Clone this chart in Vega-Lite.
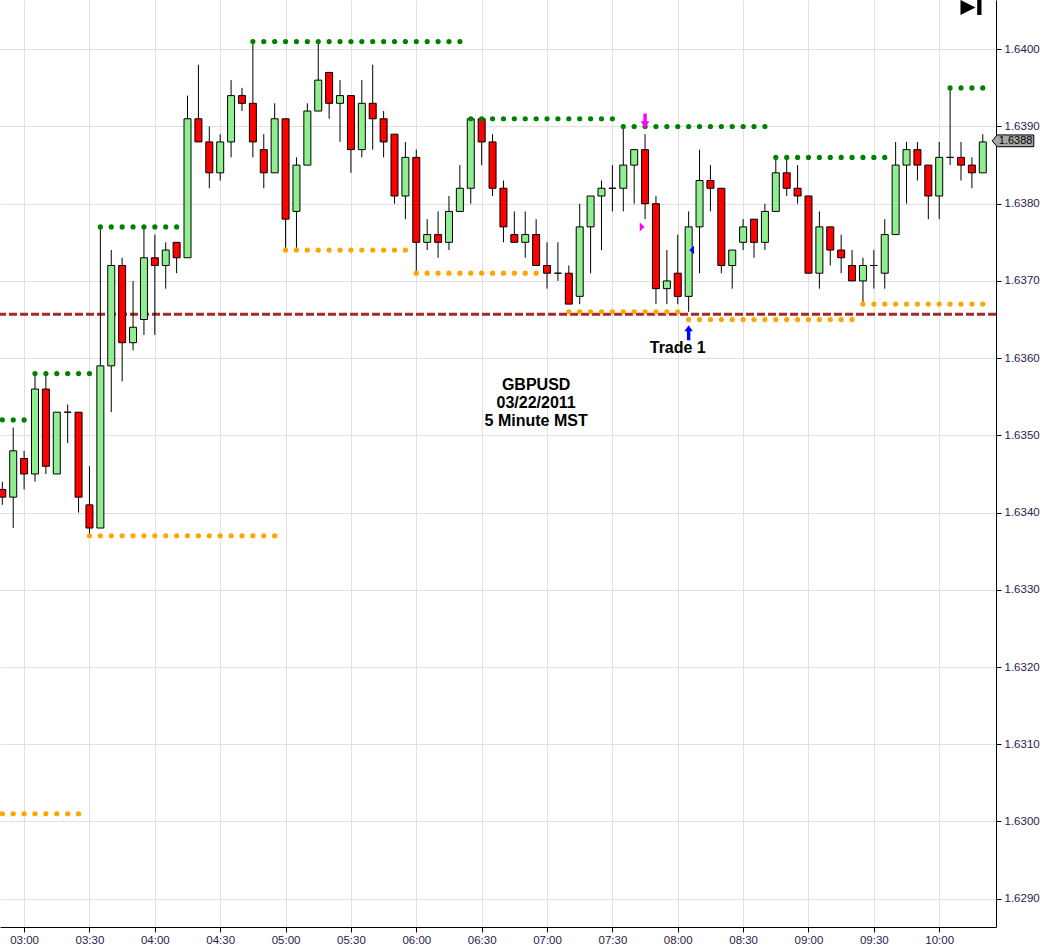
{
  "$schema": "https://vega.github.io/schema/vega-lite/v6.json",
  "description": "GBPUSD 5 minute candlesticks, 03/22/2011, with swing high/low dots and trade signals",
  "width": 996,
  "height": 927,
  "autosize": {"type": "none"},
  "padding": {"left": 0, "top": 0, "right": 48, "bottom": 25},
  "background": "white",
  "config": {
    "view": {"stroke": null},
    "font": "Liberation Sans"
  },
  "resolve": {"axis": {"x": "independent", "y": "independent"}},
  "datasets": {
    "candles": [
      {"t":"2011-03-22T02:50Z","o":1.6343,"h":1.6344,"l":1.6341,"c":1.6342},
      {"t":"2011-03-22T02:55Z","o":1.6342,"h":1.6351,"l":1.6338,"c":1.6348},
      {"t":"2011-03-22T03:00Z","o":1.6347,"h":1.6348,"l":1.6343,"c":1.6345},
      {"t":"2011-03-22T03:05Z","o":1.6345,"h":1.6358,"l":1.6344,"c":1.6356},
      {"t":"2011-03-22T03:10Z","o":1.6356,"h":1.6358,"l":1.6345,"c":1.6346},
      {"t":"2011-03-22T03:15Z","o":1.6345,"h":1.6353,"l":1.6345,"c":1.6353},
      {"t":"2011-03-22T03:20Z","o":1.6353,"h":1.6354,"l":1.6349,"c":1.6353},
      {"t":"2011-03-22T03:25Z","o":1.6353,"h":1.6353,"l":1.6340,"c":1.6342},
      {"t":"2011-03-22T03:30Z","o":1.6341,"h":1.6346,"l":1.6337,"c":1.6338},
      {"t":"2011-03-22T03:35Z","o":1.6338,"h":1.6377,"l":1.6338,"c":1.6359},
      {"t":"2011-03-22T03:40Z","o":1.6359,"h":1.6374,"l":1.6353,"c":1.6372},
      {"t":"2011-03-22T03:45Z","o":1.6372,"h":1.6373,"l":1.6357,"c":1.6362},
      {"t":"2011-03-22T03:50Z","o":1.6362,"h":1.6370,"l":1.6361,"c":1.6364},
      {"t":"2011-03-22T03:55Z","o":1.6365,"h":1.6377,"l":1.6363,"c":1.6373},
      {"t":"2011-03-22T04:00Z","o":1.6373,"h":1.6376,"l":1.6363,"c":1.6372},
      {"t":"2011-03-22T04:05Z","o":1.6372,"h":1.6375,"l":1.6369,"c":1.6374},
      {"t":"2011-03-22T04:10Z","o":1.6375,"h":1.6375,"l":1.6371,"c":1.6373},
      {"t":"2011-03-22T04:15Z","o":1.6373,"h":1.6394,"l":1.6373,"c":1.6391},
      {"t":"2011-03-22T04:20Z","o":1.6391,"h":1.6398,"l":1.6388,"c":1.6388},
      {"t":"2011-03-22T04:25Z","o":1.6388,"h":1.6390,"l":1.6382,"c":1.6384},
      {"t":"2011-03-22T04:30Z","o":1.6384,"h":1.6389,"l":1.6383,"c":1.6388},
      {"t":"2011-03-22T04:35Z","o":1.6388,"h":1.6396,"l":1.6386,"c":1.6394},
      {"t":"2011-03-22T04:40Z","o":1.6394,"h":1.6395,"l":1.6392,"c":1.6393},
      {"t":"2011-03-22T04:45Z","o":1.6393,"h":1.6401,"l":1.6386,"c":1.6388},
      {"t":"2011-03-22T04:50Z","o":1.6387,"h":1.6389,"l":1.6382,"c":1.6384},
      {"t":"2011-03-22T04:55Z","o":1.6384,"h":1.6393,"l":1.6384,"c":1.6391},
      {"t":"2011-03-22T05:00Z","o":1.6391,"h":1.6391,"l":1.6374,"c":1.6378},
      {"t":"2011-03-22T05:05Z","o":1.6379,"h":1.6386,"l":1.6374,"c":1.6385},
      {"t":"2011-03-22T05:10Z","o":1.6385,"h":1.6393,"l":1.6385,"c":1.6392},
      {"t":"2011-03-22T05:15Z","o":1.6392,"h":1.6401,"l":1.6392,"c":1.6396},
      {"t":"2011-03-22T05:20Z","o":1.6397,"h":1.6397,"l":1.6391,"c":1.6393},
      {"t":"2011-03-22T05:25Z","o":1.6393,"h":1.6396,"l":1.6388,"c":1.6394},
      {"t":"2011-03-22T05:30Z","o":1.6394,"h":1.6394,"l":1.6384,"c":1.6387},
      {"t":"2011-03-22T05:35Z","o":1.6387,"h":1.6396,"l":1.6386,"c":1.6393},
      {"t":"2011-03-22T05:40Z","o":1.6393,"h":1.6398,"l":1.6387,"c":1.6391},
      {"t":"2011-03-22T05:45Z","o":1.6391,"h":1.6392,"l":1.6386,"c":1.6388},
      {"t":"2011-03-22T05:50Z","o":1.6389,"h":1.6389,"l":1.6380,"c":1.6381},
      {"t":"2011-03-22T05:55Z","o":1.6381,"h":1.6388,"l":1.6378,"c":1.6386},
      {"t":"2011-03-22T06:00Z","o":1.6386,"h":1.6387,"l":1.6371,"c":1.6375},
      {"t":"2011-03-22T06:05Z","o":1.6375,"h":1.6378,"l":1.6374,"c":1.6376},
      {"t":"2011-03-22T06:10Z","o":1.6376,"h":1.6379,"l":1.6373,"c":1.6375},
      {"t":"2011-03-22T06:15Z","o":1.6375,"h":1.6381,"l":1.6374,"c":1.6379},
      {"t":"2011-03-22T06:20Z","o":1.6379,"h":1.6385,"l":1.6379,"c":1.6382},
      {"t":"2011-03-22T06:25Z","o":1.6382,"h":1.6391,"l":1.6380,"c":1.6391},
      {"t":"2011-03-22T06:30Z","o":1.6391,"h":1.6391,"l":1.6385,"c":1.6388},
      {"t":"2011-03-22T06:35Z","o":1.6388,"h":1.6389,"l":1.6381,"c":1.6382},
      {"t":"2011-03-22T06:40Z","o":1.6382,"h":1.6383,"l":1.6375,"c":1.6377},
      {"t":"2011-03-22T06:45Z","o":1.6376,"h":1.6379,"l":1.6375,"c":1.6375},
      {"t":"2011-03-22T06:50Z","o":1.6375,"h":1.6379,"l":1.6373,"c":1.6376},
      {"t":"2011-03-22T06:55Z","o":1.6376,"h":1.6378,"l":1.6372,"c":1.6372},
      {"t":"2011-03-22T07:00Z","o":1.6372,"h":1.6375,"l":1.6369,"c":1.6371},
      {"t":"2011-03-22T07:05Z","o":1.6371,"h":1.6375,"l":1.6370,"c":1.6371},
      {"t":"2011-03-22T07:10Z","o":1.6371,"h":1.6372,"l":1.6367,"c":1.6367},
      {"t":"2011-03-22T07:15Z","o":1.6368,"h":1.6380,"l":1.6367,"c":1.6377},
      {"t":"2011-03-22T07:20Z","o":1.6377,"h":1.6381,"l":1.6371,"c":1.6381},
      {"t":"2011-03-22T07:25Z","o":1.6381,"h":1.6383,"l":1.6374,"c":1.6382},
      {"t":"2011-03-22T07:30Z","o":1.6382,"h":1.6385,"l":1.6379,"c":1.6382},
      {"t":"2011-03-22T07:35Z","o":1.6382,"h":1.6390,"l":1.6379,"c":1.6385},
      {"t":"2011-03-22T07:40Z","o":1.6385,"h":1.6387,"l":1.6380,"c":1.6387},
      {"t":"2011-03-22T07:45Z","o":1.6387,"h":1.6389,"l":1.6378,"c":1.6380},
      {"t":"2011-03-22T07:50Z","o":1.6380,"h":1.6381,"l":1.6367,"c":1.6369},
      {"t":"2011-03-22T07:55Z","o":1.6369,"h":1.6374,"l":1.6367,"c":1.6370},
      {"t":"2011-03-22T08:00Z","o":1.6371,"h":1.6376,"l":1.6367,"c":1.6368},
      {"t":"2011-03-22T08:05Z","o":1.6368,"h":1.6379,"l":1.6366,"c":1.6377},
      {"t":"2011-03-22T08:10Z","o":1.6377,"h":1.6387,"l":1.6371,"c":1.6383},
      {"t":"2011-03-22T08:15Z","o":1.6383,"h":1.6385,"l":1.6379,"c":1.6382},
      {"t":"2011-03-22T08:20Z","o":1.6382,"h":1.6382,"l":1.6371,"c":1.6372},
      {"t":"2011-03-22T08:25Z","o":1.6372,"h":1.6374,"l":1.6369,"c":1.6374},
      {"t":"2011-03-22T08:30Z","o":1.6375,"h":1.6378,"l":1.6374,"c":1.6377},
      {"t":"2011-03-22T08:35Z","o":1.6378,"h":1.6378,"l":1.6373,"c":1.6375},
      {"t":"2011-03-22T08:40Z","o":1.6375,"h":1.6380,"l":1.6374,"c":1.6379},
      {"t":"2011-03-22T08:45Z","o":1.6379,"h":1.6386,"l":1.6379,"c":1.6384},
      {"t":"2011-03-22T08:50Z","o":1.6384,"h":1.6386,"l":1.6381,"c":1.6382},
      {"t":"2011-03-22T08:55Z","o":1.6382,"h":1.6385,"l":1.6380,"c":1.6381},
      {"t":"2011-03-22T09:00Z","o":1.6381,"h":1.6381,"l":1.6371,"c":1.6371},
      {"t":"2011-03-22T09:05Z","o":1.6371,"h":1.6379,"l":1.6369,"c":1.6377},
      {"t":"2011-03-22T09:10Z","o":1.6377,"h":1.6377,"l":1.6372,"c":1.6374},
      {"t":"2011-03-22T09:15Z","o":1.6374,"h":1.6376,"l":1.6371,"c":1.6373},
      {"t":"2011-03-22T09:20Z","o":1.6372,"h":1.6374,"l":1.6370,"c":1.6370},
      {"t":"2011-03-22T09:25Z","o":1.6370,"h":1.6373,"l":1.6367,"c":1.6372},
      {"t":"2011-03-22T09:30Z","o":1.6372,"h":1.6374,"l":1.6369,"c":1.6372},
      {"t":"2011-03-22T09:35Z","o":1.6371,"h":1.6378,"l":1.6369,"c":1.6376},
      {"t":"2011-03-22T09:40Z","o":1.6376,"h":1.6388,"l":1.6376,"c":1.6385},
      {"t":"2011-03-22T09:45Z","o":1.6385,"h":1.6388,"l":1.6380,"c":1.6387},
      {"t":"2011-03-22T09:50Z","o":1.6387,"h":1.6388,"l":1.6383,"c":1.6385},
      {"t":"2011-03-22T09:55Z","o":1.6385,"h":1.6385,"l":1.6378,"c":1.6381},
      {"t":"2011-03-22T10:00Z","o":1.6381,"h":1.6388,"l":1.6378,"c":1.6386},
      {"t":"2011-03-22T10:05Z","o":1.6386,"h":1.6395,"l":1.6385,"c":1.6386},
      {"t":"2011-03-22T10:10Z","o":1.6386,"h":1.6388,"l":1.6383,"c":1.6385},
      {"t":"2011-03-22T10:15Z","o":1.6385,"h":1.6386,"l":1.6382,"c":1.6384},
      {"t":"2011-03-22T10:20Z","o":1.6384,"h":1.6389,"l":1.6384,"c":1.6388}
    ],
    "highs": [
      {"t":"2011-03-22T02:50Z","p":1.6352},{"t":"2011-03-22T02:55Z","p":1.6352},{"t":"2011-03-22T03:00Z","p":1.6352},
      {"t":"2011-03-22T03:05Z","p":1.6358},{"t":"2011-03-22T03:10Z","p":1.6358},{"t":"2011-03-22T03:15Z","p":1.6358},{"t":"2011-03-22T03:20Z","p":1.6358},{"t":"2011-03-22T03:25Z","p":1.6358},{"t":"2011-03-22T03:30Z","p":1.6358},
      {"t":"2011-03-22T03:35Z","p":1.6377},{"t":"2011-03-22T03:40Z","p":1.6377},{"t":"2011-03-22T03:45Z","p":1.6377},{"t":"2011-03-22T03:50Z","p":1.6377},{"t":"2011-03-22T03:55Z","p":1.6377},{"t":"2011-03-22T04:00Z","p":1.6377},{"t":"2011-03-22T04:05Z","p":1.6377},{"t":"2011-03-22T04:10Z","p":1.6377},
      {"t":"2011-03-22T04:45Z","p":1.6401},{"t":"2011-03-22T04:50Z","p":1.6401},{"t":"2011-03-22T04:55Z","p":1.6401},{"t":"2011-03-22T05:00Z","p":1.6401},{"t":"2011-03-22T05:05Z","p":1.6401},{"t":"2011-03-22T05:10Z","p":1.6401},{"t":"2011-03-22T05:15Z","p":1.6401},{"t":"2011-03-22T05:20Z","p":1.6401},{"t":"2011-03-22T05:25Z","p":1.6401},{"t":"2011-03-22T05:30Z","p":1.6401},
      {"t":"2011-03-22T05:35Z","p":1.6401},{"t":"2011-03-22T05:40Z","p":1.6401},{"t":"2011-03-22T05:45Z","p":1.6401},{"t":"2011-03-22T05:50Z","p":1.6401},{"t":"2011-03-22T05:55Z","p":1.6401},{"t":"2011-03-22T06:00Z","p":1.6401},{"t":"2011-03-22T06:05Z","p":1.6401},{"t":"2011-03-22T06:10Z","p":1.6401},{"t":"2011-03-22T06:15Z","p":1.6401},{"t":"2011-03-22T06:20Z","p":1.6401},
      {"t":"2011-03-22T06:25Z","p":1.6391},{"t":"2011-03-22T06:30Z","p":1.6391},{"t":"2011-03-22T06:35Z","p":1.6391},{"t":"2011-03-22T06:40Z","p":1.6391},{"t":"2011-03-22T06:45Z","p":1.6391},{"t":"2011-03-22T06:50Z","p":1.6391},{"t":"2011-03-22T06:55Z","p":1.6391},
      {"t":"2011-03-22T07:00Z","p":1.6391},{"t":"2011-03-22T07:05Z","p":1.6391},{"t":"2011-03-22T07:10Z","p":1.6391},{"t":"2011-03-22T07:15Z","p":1.6391},{"t":"2011-03-22T07:20Z","p":1.6391},{"t":"2011-03-22T07:25Z","p":1.6391},{"t":"2011-03-22T07:30Z","p":1.6391},
      {"t":"2011-03-22T07:35Z","p":1.6390},{"t":"2011-03-22T07:40Z","p":1.6390},{"t":"2011-03-22T07:45Z","p":1.6390},{"t":"2011-03-22T07:50Z","p":1.6390},{"t":"2011-03-22T07:55Z","p":1.6390},{"t":"2011-03-22T08:00Z","p":1.6390},{"t":"2011-03-22T08:05Z","p":1.6390},
      {"t":"2011-03-22T08:10Z","p":1.6390},{"t":"2011-03-22T08:15Z","p":1.6390},{"t":"2011-03-22T08:20Z","p":1.6390},{"t":"2011-03-22T08:25Z","p":1.6390},{"t":"2011-03-22T08:30Z","p":1.6390},{"t":"2011-03-22T08:35Z","p":1.6390},{"t":"2011-03-22T08:40Z","p":1.6390},
      {"t":"2011-03-22T08:45Z","p":1.6386},{"t":"2011-03-22T08:50Z","p":1.6386},{"t":"2011-03-22T08:55Z","p":1.6386},{"t":"2011-03-22T09:00Z","p":1.6386},{"t":"2011-03-22T09:05Z","p":1.6386},{"t":"2011-03-22T09:10Z","p":1.6386},{"t":"2011-03-22T09:15Z","p":1.6386},{"t":"2011-03-22T09:20Z","p":1.6386},{"t":"2011-03-22T09:25Z","p":1.6386},{"t":"2011-03-22T09:30Z","p":1.6386},{"t":"2011-03-22T09:35Z","p":1.6386},
      {"t":"2011-03-22T10:05Z","p":1.6395},{"t":"2011-03-22T10:10Z","p":1.6395},{"t":"2011-03-22T10:15Z","p":1.6395},{"t":"2011-03-22T10:20Z","p":1.6395}
    ],
    "lows": [
      {"t":"2011-03-22T02:50Z","p":1.6301},{"t":"2011-03-22T02:55Z","p":1.6301},{"t":"2011-03-22T03:00Z","p":1.6301},{"t":"2011-03-22T03:05Z","p":1.6301},{"t":"2011-03-22T03:10Z","p":1.6301},{"t":"2011-03-22T03:15Z","p":1.6301},{"t":"2011-03-22T03:20Z","p":1.6301},{"t":"2011-03-22T03:25Z","p":1.6301},
      {"t":"2011-03-22T03:30Z","p":1.6337},{"t":"2011-03-22T03:35Z","p":1.6337},{"t":"2011-03-22T03:40Z","p":1.6337},{"t":"2011-03-22T03:45Z","p":1.6337},{"t":"2011-03-22T03:50Z","p":1.6337},{"t":"2011-03-22T03:55Z","p":1.6337},{"t":"2011-03-22T04:00Z","p":1.6337},{"t":"2011-03-22T04:05Z","p":1.6337},{"t":"2011-03-22T04:10Z","p":1.6337},
      {"t":"2011-03-22T04:15Z","p":1.6337},{"t":"2011-03-22T04:20Z","p":1.6337},{"t":"2011-03-22T04:25Z","p":1.6337},{"t":"2011-03-22T04:30Z","p":1.6337},{"t":"2011-03-22T04:35Z","p":1.6337},{"t":"2011-03-22T04:40Z","p":1.6337},{"t":"2011-03-22T04:45Z","p":1.6337},{"t":"2011-03-22T04:50Z","p":1.6337},{"t":"2011-03-22T04:55Z","p":1.6337},
      {"t":"2011-03-22T05:00Z","p":1.6374},{"t":"2011-03-22T05:05Z","p":1.6374},{"t":"2011-03-22T05:10Z","p":1.6374},{"t":"2011-03-22T05:15Z","p":1.6374},{"t":"2011-03-22T05:20Z","p":1.6374},{"t":"2011-03-22T05:25Z","p":1.6374},{"t":"2011-03-22T05:30Z","p":1.6374},{"t":"2011-03-22T05:35Z","p":1.6374},{"t":"2011-03-22T05:40Z","p":1.6374},{"t":"2011-03-22T05:45Z","p":1.6374},{"t":"2011-03-22T05:50Z","p":1.6374},{"t":"2011-03-22T05:55Z","p":1.6374},
      {"t":"2011-03-22T06:00Z","p":1.6371},{"t":"2011-03-22T06:05Z","p":1.6371},{"t":"2011-03-22T06:10Z","p":1.6371},{"t":"2011-03-22T06:15Z","p":1.6371},{"t":"2011-03-22T06:20Z","p":1.6371},{"t":"2011-03-22T06:25Z","p":1.6371},{"t":"2011-03-22T06:30Z","p":1.6371},{"t":"2011-03-22T06:35Z","p":1.6371},{"t":"2011-03-22T06:40Z","p":1.6371},{"t":"2011-03-22T06:45Z","p":1.6371},{"t":"2011-03-22T06:50Z","p":1.6371},{"t":"2011-03-22T06:55Z","p":1.6371},
      {"t":"2011-03-22T07:10Z","p":1.6366},{"t":"2011-03-22T07:15Z","p":1.6366},{"t":"2011-03-22T07:20Z","p":1.6366},{"t":"2011-03-22T07:25Z","p":1.6366},{"t":"2011-03-22T07:30Z","p":1.6366},{"t":"2011-03-22T07:35Z","p":1.6366},{"t":"2011-03-22T07:40Z","p":1.6366},{"t":"2011-03-22T07:45Z","p":1.6366},{"t":"2011-03-22T07:50Z","p":1.6366},{"t":"2011-03-22T07:55Z","p":1.6366},{"t":"2011-03-22T08:00Z","p":1.6366},
      {"t":"2011-03-22T08:05Z","p":1.6365},{"t":"2011-03-22T08:10Z","p":1.6365},{"t":"2011-03-22T08:15Z","p":1.6365},{"t":"2011-03-22T08:20Z","p":1.6365},{"t":"2011-03-22T08:25Z","p":1.6365},{"t":"2011-03-22T08:30Z","p":1.6365},{"t":"2011-03-22T08:35Z","p":1.6365},{"t":"2011-03-22T08:40Z","p":1.6365},
      {"t":"2011-03-22T08:45Z","p":1.6365},{"t":"2011-03-22T08:50Z","p":1.6365},{"t":"2011-03-22T08:55Z","p":1.6365},{"t":"2011-03-22T09:00Z","p":1.6365},{"t":"2011-03-22T09:05Z","p":1.6365},{"t":"2011-03-22T09:10Z","p":1.6365},{"t":"2011-03-22T09:15Z","p":1.6365},{"t":"2011-03-22T09:20Z","p":1.6365},
      {"t":"2011-03-22T09:25Z","p":1.6367},{"t":"2011-03-22T09:30Z","p":1.6367},{"t":"2011-03-22T09:35Z","p":1.6367},{"t":"2011-03-22T09:40Z","p":1.6367},{"t":"2011-03-22T09:45Z","p":1.6367},{"t":"2011-03-22T09:50Z","p":1.6367},{"t":"2011-03-22T09:55Z","p":1.6367},{"t":"2011-03-22T10:00Z","p":1.6367},{"t":"2011-03-22T10:05Z","p":1.6367},{"t":"2011-03-22T10:10Z","p":1.6367},{"t":"2011-03-22T10:15Z","p":1.6367},{"t":"2011-03-22T10:20Z","p":1.6367}
    ],
    "signals": [
      {"t":"2011-03-22T07:45Z","p":1.63907,"kind":"sell"},
      {"t":"2011-03-22T07:45Z","p":1.6377,"kind":"sellMark"},
      {"t":"2011-03-22T08:05Z","p":1.6374,"kind":"buyMark"},
      {"t":"2011-03-22T08:05Z","p":1.63633,"kind":"buy"}
    ],
    "support": [{"p":1.63657}],
    "notes": [
      {"t":"2011-03-22T08:00Z","p":1.63613,"text":"Trade 1"},
      {"t":"2011-03-22T06:55Z","p":1.63565,"text":"GBPUSD\n03/22/2011\n5 Minute MST"}
    ],
    "quote": [{"t":"2011-03-22T10:20Z","p":1.6388}],
    "icon": [{"t":"2011-03-22T10:20Z","p":1.6405}]
  },
  "layer": [
    {
      "data": {"name": "support"},
      "mark": {"type": "rule", "color": "#a52a2a", "strokeWidth": 3, "strokeDash": [8, 3]},
      "encoding": {
        "y": {"field": "p", "type": "quantitative", "scale": {"domain": [1.6286335, 1.640638], "zero": false, "nice": false}, "axis": null}
      }
    },
    {
      "data": {"name": "candles"},
      "mark": {"type": "rule", "color": "#000", "strokeWidth": 1, "clip": true},
      "encoding": {
        "x": {
          "field": "t", "type": "temporal",
          "scale": {"type": "utc", "domain": [
            {"year": 2011, "month": 3, "date": 22, "hours": 2, "minutes": 51, "seconds": 14, "utc": true},
            {"year": 2011, "month": 3, "date": 22, "hours": 10, "minutes": 23, "seconds": 46, "utc": true}
          ]},
          "axis": {
            "title": null, "format": "%H:%M",
            "values": [
              {"year": 2011, "month": 3, "date": 22, "hours": 3, "minutes": 0, "utc": true},
              {"year": 2011, "month": 3, "date": 22, "hours": 3, "minutes": 30, "utc": true},
              {"year": 2011, "month": 3, "date": 22, "hours": 4, "minutes": 0, "utc": true},
              {"year": 2011, "month": 3, "date": 22, "hours": 4, "minutes": 30, "utc": true},
              {"year": 2011, "month": 3, "date": 22, "hours": 5, "minutes": 0, "utc": true},
              {"year": 2011, "month": 3, "date": 22, "hours": 5, "minutes": 30, "utc": true},
              {"year": 2011, "month": 3, "date": 22, "hours": 6, "minutes": 0, "utc": true},
              {"year": 2011, "month": 3, "date": 22, "hours": 6, "minutes": 30, "utc": true},
              {"year": 2011, "month": 3, "date": 22, "hours": 7, "minutes": 0, "utc": true},
              {"year": 2011, "month": 3, "date": 22, "hours": 7, "minutes": 30, "utc": true},
              {"year": 2011, "month": 3, "date": 22, "hours": 8, "minutes": 0, "utc": true},
              {"year": 2011, "month": 3, "date": 22, "hours": 8, "minutes": 30, "utc": true},
              {"year": 2011, "month": 3, "date": 22, "hours": 9, "minutes": 0, "utc": true},
              {"year": 2011, "month": 3, "date": 22, "hours": 9, "minutes": 30, "utc": true},
              {"year": 2011, "month": 3, "date": 22, "hours": 10, "minutes": 0, "utc": true}
            ],
            "grid": true, "gridColor": "#e0e0e0", "domainColor": "#000", "tickColor": "#000", "tickSize": 5,
            "labelPadding": 2, "labelFont": "Liberation Sans", "labelFontSize": 11.5, "labelColor": "#301848"
          }
        },
        "y": {
          "field": "l", "type": "quantitative",
          "scale": {"domain": [1.6286335, 1.640638], "zero": false, "nice": false},
          "axis": {
            "title": null, "orient": "right", "format": ".4f",
            "values": [1.629, 1.630, 1.631, 1.632, 1.633, 1.634, 1.635, 1.636, 1.637, 1.638, 1.639, 1.640],
            "grid": true, "gridColor": "#e0e0e0", "domainColor": "#000", "tickColor": "#000", "tickSize": 5,
            "labelPadding": 3, "labelFont": "Liberation Sans", "labelFontSize": 11.5, "labelColor": "#301848"
          }
        },
        "y2": {"field": "h"}
      }
    },
    {
      "data": {"name": "candles"},
      "mark": {"type": "bar", "width": 7, "stroke": "#000", "strokeWidth": 1, "clip": true},
      "encoding": {
        "x": {"field": "t", "type": "temporal", "scale": {"type": "utc"}, "axis": null},
        "y": {"field": "o", "type": "quantitative", "axis": null},
        "y2": {"field": "c"},
        "fill": {"condition": {"test": "datum.c < datum.o", "value": "#ff0000"}, "value": "#90ee90"}
      }
    },
    {
      "data": {"name": "highs"},
      "mark": {"type": "point", "shape": "circle", "filled": true, "size": 27, "color": "#008000", "opacity": 1, "clip": true},
      "encoding": {
        "x": {"field": "t", "type": "temporal", "scale": {"type": "utc"}, "axis": null},
        "y": {"field": "p", "type": "quantitative", "axis": null}
      }
    },
    {
      "data": {"name": "lows"},
      "mark": {"type": "point", "shape": "circle", "filled": true, "size": 27, "color": "#ffa500", "opacity": 1, "clip": true},
      "encoding": {
        "x": {"field": "t", "type": "temporal", "scale": {"type": "utc"}, "axis": null},
        "y": {"field": "p", "type": "quantitative", "axis": null}
      }
    },
    {
      "data": {"name": "signals"},
      "transform": [{"filter": {"field": "kind", "equal": "sell"}}],
      "mark": {"type": "point", "shape": "M-1.7,-7.5 L1.7,-7.5 L1.7,0.2 L4.2,0.2 L0,7.5 L-4.2,0.2 L-1.7,0.2 Z", "size": 4, "filled": true, "color": "#ff00ff", "opacity": 1},
      "encoding": {
        "x": {"field": "t", "type": "temporal", "scale": {"type": "utc"}, "axis": null},
        "y": {"field": "p", "type": "quantitative", "axis": null}
      }
    },
    {
      "data": {"name": "signals"},
      "transform": [{"filter": {"field": "kind", "equal": "sellMark"}}],
      "mark": {"type": "point", "shape": "M-0.6,0 L-5.3,-4.6 L-5.3,4.6 Z", "size": 4, "filled": true, "color": "#ff00ff", "opacity": 1},
      "encoding": {
        "x": {"field": "t", "type": "temporal", "scale": {"type": "utc"}, "axis": null},
        "y": {"field": "p", "type": "quantitative", "axis": null}
      }
    },
    {
      "data": {"name": "signals"},
      "transform": [{"filter": {"field": "kind", "equal": "buyMark"}}],
      "mark": {"type": "point", "shape": "M0.7,0 L5.4,-4.2 L5.4,4.2 Z", "size": 4, "filled": true, "color": "#0000ff", "opacity": 1},
      "encoding": {
        "x": {"field": "t", "type": "temporal", "scale": {"type": "utc"}, "axis": null},
        "y": {"field": "p", "type": "quantitative", "axis": null}
      }
    },
    {
      "data": {"name": "signals"},
      "transform": [{"filter": {"field": "kind", "equal": "buy"}}],
      "mark": {"type": "point", "shape": "M0,-7.5 L4.2,-1.5 L1.7,-1.5 L1.7,7.5 L-1.7,7.5 L-1.7,-1.5 L-4.2,-1.5 Z", "size": 4, "filled": true, "color": "#0000ff", "opacity": 1},
      "encoding": {
        "x": {"field": "t", "type": "temporal", "scale": {"type": "utc"}, "axis": null},
        "y": {"field": "p", "type": "quantitative", "axis": null}
      }
    },
    {
      "data": {"name": "notes"},
      "mark": {"type": "text", "font": "Liberation Sans", "fontSize": 16, "fontWeight": "bold", "color": "#000", "align": "center", "baseline": "middle", "lineBreak": "\n", "lineHeight": 18},
      "encoding": {
        "x": {"field": "t", "type": "temporal", "scale": {"type": "utc"}, "axis": null},
        "y": {"field": "p", "type": "quantitative", "axis": null},
        "text": {"field": "text", "type": "nominal"}
      }
    },
    {
      "data": {"name": "quote"},
      "mark": {"type": "point", "shape": "M9.4,-1.1 L14.4,-7 L51,-7 L51,4.8 L14.4,4.8 Z", "size": 4, "filled": true, "fill": "#a6a6a6", "stroke": "#000", "strokeWidth": 1, "opacity": 1},
      "encoding": {
        "x": {"field": "t", "type": "temporal", "scale": {"type": "utc"}, "axis": null},
        "y": {"field": "p", "type": "quantitative", "axis": null}
      }
    },
    {
      "data": {"name": "quote"},
      "mark": {"type": "text", "font": "Liberation Sans", "fontSize": 11, "color": "#000", "align": "left", "baseline": "middle", "dx": 16, "dy": -1},
      "encoding": {
        "x": {"field": "t", "type": "temporal", "scale": {"type": "utc"}, "axis": null},
        "y": {"field": "p", "type": "quantitative", "axis": null},
        "text": {"field": "p", "type": "quantitative", "format": ".4f"}
      }
    },
    {
      "data": {"name": "icon"},
      "mark": {"type": "point", "shape": "M-22.3,-10.7 L-7.3,-3.2 L-22.3,4.3 Z M-5.6,-10.7 L-1.3,-10.7 L-1.3,4.3 L-5.6,4.3 Z", "size": 4, "filled": true, "color": "#000", "opacity": 1},
      "encoding": {
        "x": {"field": "t", "type": "temporal", "scale": {"type": "utc"}, "axis": null},
        "y": {"field": "p", "type": "quantitative", "axis": null}
      }
    }
  ]
}
